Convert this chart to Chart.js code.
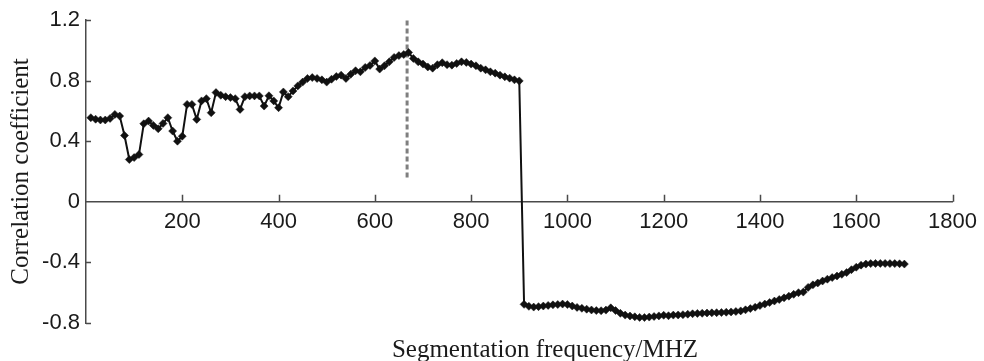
<!DOCTYPE html>
<html>
<head>
<meta charset="utf-8">
<script src="https://cdn.jsdelivr.net/npm/chart.js@4.4.0/dist/chart.umd.min.js"></script>
<style>
  html, body { margin: 0; padding: 0; background: #fff; }
</style>
</head>
<body>
<canvas id="corrChart" width="984" height="361"></canvas>
<script>
// segmentation frequency (MHz)
var freq = [
  10, 20, 30, 40, 50, 60, 70, 80, 90, 100,
  110, 120, 130, 140, 150, 160, 170, 180, 190, 200,
  210, 220, 230, 240, 250, 260, 270, 280, 290, 300,
  310, 320, 330, 340, 350, 360, 370, 380, 390, 400,
  410, 420, 430, 440, 450, 460, 470, 480, 490, 500,
  510, 520, 530, 540, 550, 560, 570, 580, 590, 600,
  610, 620, 630, 640, 650, 660, 670, 680, 690, 700,
  710, 720, 730, 740, 750, 760, 770, 780, 790, 800,
  810, 820, 830, 840, 850, 860, 870, 880, 890, 900,
  910, 920, 930, 940, 950, 960, 970, 980, 990, 1000,
  1010, 1020, 1030, 1040, 1050, 1060, 1070, 1080, 1090, 1100,
  1110, 1120, 1130, 1140, 1150, 1160, 1170, 1180, 1190, 1200,
  1210, 1220, 1230, 1240, 1250, 1260, 1270, 1280, 1290, 1300,
  1310, 1320, 1330, 1340, 1350, 1360, 1370, 1380, 1390, 1400,
  1410, 1420, 1430, 1440, 1450, 1460, 1470, 1480, 1490, 1500,
  1510, 1520, 1530, 1540, 1550, 1560, 1570, 1580, 1590, 1600,
  1610, 1620, 1630, 1640, 1650, 1660, 1670, 1680, 1690, 1700
];

// correlation coefficient
var corr = [
  0.555, 0.545, 0.540, 0.540, 0.550, 0.577, 0.566, 0.438, 0.279, 0.292,
  0.312, 0.515, 0.533, 0.504, 0.482, 0.517, 0.555, 0.467, 0.400, 0.433,
  0.643, 0.643, 0.544, 0.666, 0.681, 0.588, 0.721, 0.703, 0.694, 0.688,
  0.681, 0.610, 0.694, 0.699, 0.699, 0.699, 0.632, 0.700, 0.666, 0.621,
  0.725, 0.694, 0.732, 0.765, 0.790, 0.814, 0.820, 0.814, 0.805, 0.790,
  0.809, 0.827, 0.836, 0.814, 0.842, 0.865, 0.858, 0.887, 0.900, 0.930,
  0.876, 0.898, 0.924, 0.953, 0.965, 0.972, 0.986, 0.946, 0.924, 0.909,
  0.890, 0.882, 0.905, 0.918, 0.905, 0.902, 0.913, 0.924, 0.920, 0.909,
  0.898, 0.882, 0.871, 0.858, 0.849, 0.836, 0.825, 0.816, 0.805, 0.798,
  -0.677, -0.690, -0.695, -0.692, -0.688, -0.684, -0.680, -0.678, -0.675, -0.678,
  -0.688, -0.697, -0.703, -0.709, -0.714, -0.718, -0.719, -0.715, -0.700, -0.718,
  -0.736, -0.748, -0.754, -0.759, -0.763, -0.764, -0.761, -0.757, -0.753, -0.749,
  -0.752, -0.748, -0.747, -0.745, -0.742, -0.739, -0.737, -0.736, -0.734, -0.733,
  -0.732, -0.731, -0.729, -0.727, -0.724, -0.720, -0.713, -0.705, -0.696, -0.685,
  -0.675, -0.665, -0.655, -0.645, -0.634, -0.623, -0.611, -0.600, -0.596, -0.565,
  -0.548, -0.536, -0.523, -0.511, -0.500, -0.490, -0.479, -0.467, -0.448, -0.432,
  -0.418, -0.411, -0.408, -0.407, -0.407, -0.407, -0.408, -0.408, -0.409, -0.411
];

// dashed marker at the best frequency
var markX = [667, 667];
var markY = [0.16, 1.2];

// ticks
var xTicks = [200, 400, 600, 800, 1000, 1200, 1400, 1600, 1800];
var xTickLabels = ['200', '400', '600', '800', '1000', '1200', '1400', '1600', '1800'];
var yTicks = [-0.8, -0.4, 0, 0.4, 0.8, 1.2];
var yTickLabels = ['-0.8', '-0.4', '0', '0.4', '0.8', '1.2'];

var xTitle = 'Segmentation frequency/MHZ';
var yTitle = 'Correlation coefficient';

var axisColor = '#4a4a4a';
var textColor = '#1a1a1a';
var serif = '"Liberation Serif", "Times New Roman", serif';
var sans = '"Liberation Sans", Arial, sans-serif';

// inward tick marks + x title
var axisExtras = {
  id: 'axisExtras',
  afterDraw: function (chart) {
    var ctx = chart.ctx;
    var xs = chart.scales.x, ys = chart.scales.y;
    var y0 = ys.getPixelForValue(0);
    var x0 = chart.chartArea.left;
    ctx.save();
    ctx.strokeStyle = axisColor;
    ctx.lineWidth = 1.5;
    ctx.beginPath();
    xTicks.forEach(function (v) {
      var px = Math.round(xs.getPixelForValue(v)) + 0.5;
      ctx.moveTo(px, y0);
      ctx.lineTo(px, y0 - 7);
    });
    yTicks.forEach(function (v) {
      if (v === 0) return;
      var py = Math.round(ys.getPixelForValue(v)) + 0.5;
      ctx.moveTo(x0, py);
      ctx.lineTo(x0 + 5, py);
    });
    ctx.stroke();

    ctx.fillStyle = textColor;
    ctx.font = '25px ' + serif;
    ctx.textAlign = 'center';
    ctx.textBaseline = 'alphabetic';
    ctx.fillText(xTitle, 545, 357);
    ctx.restore();
  }
};

var points = freq.map(function (f, i) { return { x: f, y: corr[i] }; });
var markPoints = markX.map(function (f, i) { return { x: f, y: markY[i] }; });

var chart = new Chart(document.getElementById('corrChart'), {
  type: 'line',
  data: {
    datasets: [{
      data: points,
      borderColor: '#111',
      borderWidth: 2,
      pointStyle: 'rectRot',
      pointRadius: 4,
      pointBackgroundColor: '#111',
      pointBorderColor: '#111',
      pointBorderWidth: 0.5,
      tension: 0
    }, {
      data: markPoints,
      borderColor: '#7f7f7f',
      borderWidth: 3,
      borderDash: [5, 3],
      pointRadius: 0
    }]
  },
  options: {
    responsive: false,
    animation: false,
    devicePixelRatio: 1,
    layout: { padding: { left: 0, right: 26, top: 20, bottom: 38 } },
    plugins: {
      legend: { display: false },
      tooltip: { enabled: false }
    },
    scales: {
      x: {
        type: 'linear',
        position: { y: 0 },
        min: 0,
        max: 1800,
        afterFit: function (s) { s.height = 0; },
        afterBuildTicks: function (s) {
          s.ticks = xTicks.map(function (v) { return { value: v }; });
        },
        grid: { display: true, drawOnChartArea: false, drawTicks: false },
        border: { display: true, color: axisColor, width: 1.5 },
        ticks: {
          autoSkip: false,
          maxRotation: 0,
          padding: 7,
          color: textColor,
          font: { family: sans, size: 22 },
          callback: function (v) {
            var i = xTicks.indexOf(v);
            return i < 0 ? '' : xTickLabels[i];
          }
        }
      },
      y: {
        type: 'linear',
        position: 'left',
        min: -0.8,
        max: 1.2,
        afterFit: function (s) { s.width = 86; },
        afterBuildTicks: function (s) {
          s.ticks = yTicks.map(function (v) { return { value: v }; });
        },
        grid: { display: true, drawOnChartArea: false, drawTicks: false },
        border: { display: true, color: axisColor, width: 1.5 },
        ticks: {
          padding: 6,
          color: textColor,
          font: { family: sans, size: 22 },
          callback: function (v) {
            var i = yTicks.indexOf(v);
            return i < 0 ? '' : yTickLabels[i];
          }
        },
        title: {
          display: true,
          text: yTitle,
          color: textColor,
          font: { family: serif, size: 25 },
          padding: { top: 6, bottom: 0 }
        }
      }
    }
  },
  plugins: [axisExtras]
});
</script>
</body>
</html>
